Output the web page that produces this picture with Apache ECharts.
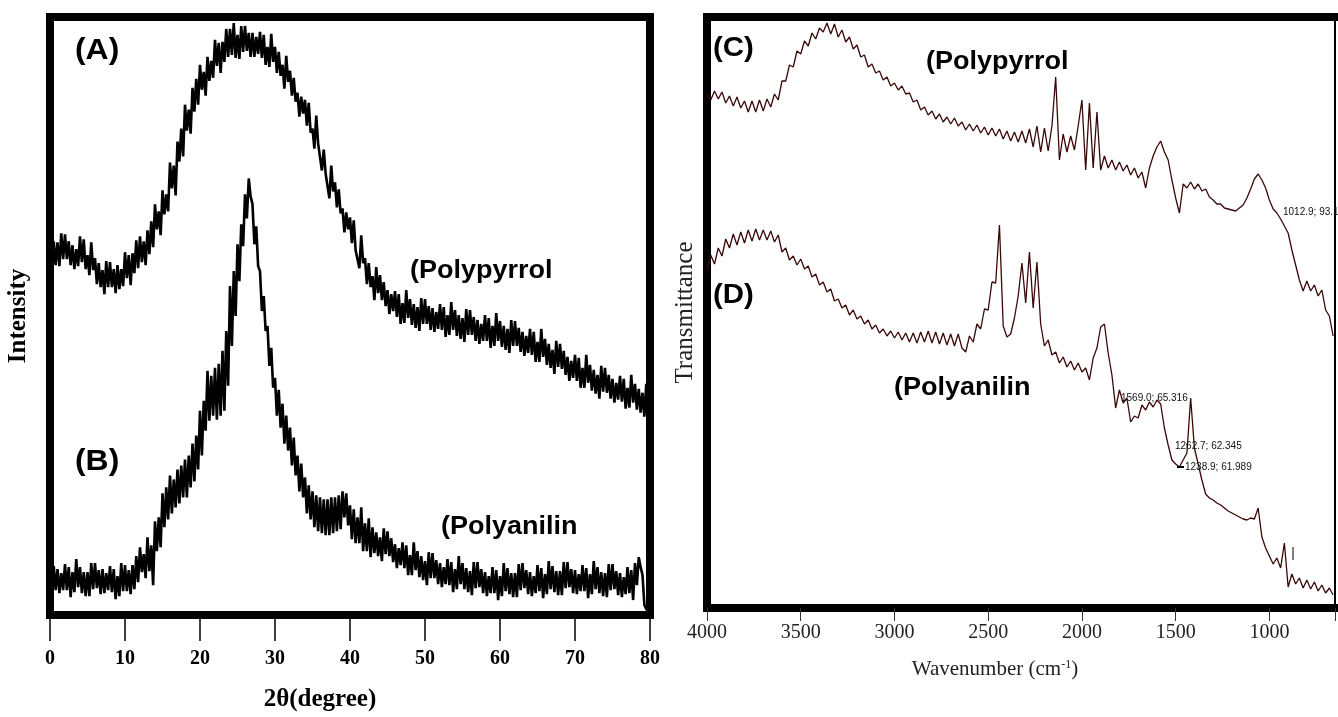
<!DOCTYPE html>
<html>
<head>
  <meta charset="utf-8">
  <title>XRD and FTIR of Polypyrrol / Polyanilin</title>
  <script src="https://cdn.jsdelivr.net/npm/echarts@6/dist/echarts.min.js"></script>
</head>
<body style="margin:0;background:#fff">
<div id="main" style="width:1338px;height:717px"></div>
<script type="text/javascript">
  // XRD scans: 2theta 0..80 deg, 0.25 deg step, arbitrary intensity
  var xrdStart = 0, xrdStep = 0.25;
  var xrdPolypyrrol = [
    380,354,375,351, 374,350,383,357, 382,357,375,351, 371,347,367,350, 380,354,377,347,
    361,341,374,346, 358,332,353,329, 346,322,355,329, 354,329,347,323, 351,327,347,330,
    364,338,361,331, 363,343,376,348, 380,354,375,351, 386,362,395,369, 412,387,405,381,
    426,402,422,405, 454,428,451,421, 475,455,488,460, 512,486,507,483, 529,505,538,512,
    552,527,545,521, 560,536,556,539, 577,551,574,544, 575,555,588,560, 588,562,594,559,
    582,558,591,565, 591,566,584,560, 584,560,580,563, 585,559,582,552, 570,550,583,555,
    570,544,565,541, 552,528,561,535, 546,521,539,515, 524,500,520,503, 517,491,514,484,
    488,468,501,473, 472,446,467,443, 442,418,451,425, 434,409,427,403, 408,384,404,387,
    399,373,396,366, 368,348,381,353, 358,332,353,329, 340,316,349,323, 341,316,334,310,
    326,302,322,305, 325,299,322,292, 313,293,326,298, 317,291,312,288, 309,285,318,292,
    317,292,310,286, 308,284,304,287, 312,286,309,279, 301,281,314,286, 306,280,301,277,
    298,274,307,281, 306,281,299,275, 296,272,292,275, 301,275,298,268, 290,270,303,275,
    295,269,290,266, 287,263,296,270, 295,270,288,264, 284,260,280,263, 287,261,284,254,
    274,254,287,259, 277,251,272,248, 266,242,275,249, 272,247,265,241, 259,235,255,238,
    261,235,258,228, 248,228,261,233, 251,225,246,222, 241,217,250,224, 248,223,241,217,
    237,213,233,216, 240,214,237,207, 228,208,241,213, 232,206,227,203, 223,199,232,206,
    213
  ];
  var xrdPolyanilin = [
    56,31,49,25, 46,22,42,25, 51,25,48,18, 43,23,56,28, 48,22,43,19,
    43,19,52,26, 52,27,45,21, 46,22,42,25, 49,23,46,16, 39,19,52,24,
    50,24,45,21, 50,26,59,33, 68,43,61,37, 78,44,70,30, 94,64,98,68,
    122,88,128,96, 140,102,136,108, 146,112,150,118, 156,118,160,128, 172,134,180,146,
    205,160,215,185, 245,195,240,200, 248,196,252,200, 265,205,285,230, 330,270,345,300,
    372,335,392,370, 422,398,438,420, 412,372,390,350, 345,305,320,285, 290,250,268,228,
    238,200,226,188, 212,172,200,165, 188,150,178,140, 160,124,152,118, 138,102,130,96,
    124,88,120,84, 118,82,116,80, 116,80,118,82, 118,84,120,86, 124,98,122,90,
    110,76,106,72, 98,72,108,64, 92,64,97,58, 88,62,83,59, 78,54,87,61,
    84,59,77,53, 71,47,67,50, 73,47,70,40, 60,40,73,45, 64,38,59,35,
    54,30,63,37, 62,37,55,31, 52,28,48,31, 56,30,53,23, 46,26,59,31,
    52,26,47,23, 44,20,53,27, 53,28,46,22, 43,19,39,22, 48,22,45,15,
    39,19,52,24, 47,21,42,18, 42,18,51,25, 52,27,45,21, 43,19,39,22,
    50,24,47,17, 41,21,54,26, 49,23,44,20, 44,20,53,27, 53,28,46,22,
    45,21,41,24, 50,24,47,17, 41,21,54,26, 48,22,43,19, 42,18,51,25,
    51,26,44,20, 42,18,38,21, 48,22,45,15, 52,30,58,48, 40,10,6,4,
    2
  ];

  // FTIR spectra: wavenumber 4000 down to 660 cm-1, 20 cm-1 step, arbitrary transmittance
  var ftirStart = 4000, ftirStep = -20;
  var ftirPolypyrrol = [
    514,508,517,509,516,505,512,502,511,500,
    507,496,507,496,508,497,509,501,514,508,
    527,527,543,541,557,554,567,562,575,569,
    580,576,585,574,584,571,578,566,571,559,
    563,551,553,541,544,535,537,528,531,522,
    525,518,522,514,515,506,508,498,501,493,
    497,489,494,486,491,484,490,482,486,478,
    484,477,483,475,481,473,480,472,479,469,
    477,467,476,466,477,465,479,461,482,456,
    480,457,482,531,448,474,456,472,458,482,
    508,438,505,440,496,438,452,440,448,438,
    446,437,443,433,440,430,436,420,440,452,
    461,467,456,448,428,410,395,424,420,426,
    419,424,417,419,411,408,404,404,400,399,
    398,397,400,403,410,419,429,434,428,420,
    408,399,395,389,382,375,358,343,328,317,
    327,317,323,312,318,298,292,272
  ];
  var ftirPolyanilin = [
    338,353,344,360,352,369,360,374,363,376,
    365,378,367,379,368,378,368,377,366,373,
    356,360,348,352,343,349,339,342,331,334,
    323,326,316,319,307,309,300,303,293,298,
    289,292,284,288,279,283,275,279,272,277,
    270,276,268,275,266,275,265,276,266,277,
    265,276,264,275,263,274,262,274,260,256,
    272,266,284,279,299,298,326,325,383,282,
    271,274,290,312,345,305,356,300,346,284,
    262,268,253,256,245,251,241,247,238,245,
    236,240,228,250,260,281,284,255,233,200,
    218,205,210,186,192,190,203,198,206,201,
    208,204,180,163,148,144,141,148,155,210,
    160,144,128,114,110,108,105,103,100,97,
    95,93,91,89,88,90,89,100,71,60,
    52,44,50,40,65,21,34,24,30,20,
    28,19,26,17,23,15,20,13
  ];

  function toPairs(start, step, values) {
    return values.map(function (v, i) { return [start + step * i, v]; });
  }

  var serifBold = { fontFamily: 'Liberation Serif', fontWeight: 'bold', color: '#000' };
  var serif = { fontFamily: 'Liberation Serif', color: '#222' };
  var hidden = { show: false };

  function label(text, x, y, size, sx) {
    return {
      type: 'text', x: x, y: y, z: 100, scaleX: sx,
      style: { text: text, fontFamily: 'Liberation Sans', fontWeight: 'bold', fontSize: size, fill: '#000', verticalAlign: 'middle' }
    };
  }
  function note(text, x, y) {
    return {
      type: 'text', x: x, y: y, z: 100,
      style: { text: text, fontFamily: 'Liberation Sans', fontSize: 10, fill: '#111', verticalAlign: 'middle' }
    };
  }

  var myChart = echarts.init(document.getElementById('main'));
  var thick = { show: true, onZero: false, lineStyle: { color: '#000', width: 8, cap: 'square' } };
  var option = {
    animation: false,
    backgroundColor: '#fff',
    grid: [
      { left: 50, top: 17, width: 600, height: 599, show: true, borderColor: '#000', borderWidth: 8 },
      { left: 707, top: 17, width: 629, height: 591, show: true, borderColor: '#000', borderWidth: 2 }
    ],
    xAxis: [
      {
        gridIndex: 0, type: 'value', min: 0, max: 80, interval: 10,
        axisLine: { show: true, lineStyle: { color: '#000', width: 1 } },
        axisTick: { show: true, length: 26, lineStyle: { color: '#000', width: 1.5 } },
        axisLabel: Object.assign({ margin: 34, fontSize: 20 }, serifBold),
        splitLine: hidden,
        name: '2θ(degree)', nameLocation: 'middle', nameGap: 72,
        nameTextStyle: Object.assign({ fontSize: 25, padding: [0, 60, 0, 0] }, serifBold)
      },
      {
        gridIndex: 1, type: 'value', inverse: true, min: 650, max: 4000,
        axisLine: thick,
        axisTick: { show: true, length: 13, lineStyle: { color: '#333', width: 1 } },
        axisLabel: Object.assign({
          margin: 15, fontSize: 20,
          formatter: function (v) { return v % 500 === 0 ? String(v) : ''; }
        }, serif),
        splitLine: hidden,
        name: '{a|Wavenumber (cm}{s|-1}{a|)}', nameLocation: 'middle', nameGap: 51,
        nameTextStyle: {
          padding: [0, 52, 0, 0],
          rich: {
            a: { fontFamily: 'Liberation Serif', fontSize: 21, color: '#222' },
            s: { fontFamily: 'Liberation Serif', fontSize: 12, color: '#222', verticalAlign: 'top' }
          }
        }
      },
      {
        gridIndex: 1, type: 'value', position: 'top', inverse: true, min: 650, max: 4000,
        axisLine: thick, axisTick: hidden, axisLabel: hidden, splitLine: hidden
      }
    ],
    yAxis: [
      {
        gridIndex: 0, type: 'value', min: 0, max: 600,
        axisLine: hidden, axisTick: hidden, axisLabel: hidden, splitLine: hidden,
        name: 'Intensity', nameLocation: 'middle', nameGap: 19,
        nameTextStyle: Object.assign({ fontSize: 25 }, serifBold)
      },
      {
        gridIndex: 1, type: 'value', min: 0, max: 591,
        axisLine: thick, axisTick: hidden, axisLabel: hidden, splitLine: hidden,
        name: 'Transmittance', nameLocation: 'middle', nameGap: 9,
        nameTextStyle: Object.assign({ fontSize: 25 }, serif)
      }
    ],
    series: [
      {
        name: 'XRD Polypyrrol', type: 'line', xAxisIndex: 0, yAxisIndex: 0, silent: true,
        showSymbol: false, data: toPairs(xrdStart, xrdStep, xrdPolypyrrol),
        lineStyle: { color: '#000', width: 2.6 }
      },
      {
        name: 'XRD Polyanilin', type: 'line', xAxisIndex: 0, yAxisIndex: 0, silent: true,
        showSymbol: false, data: toPairs(xrdStart, xrdStep, xrdPolyanilin),
        lineStyle: { color: '#000', width: 2.6 }
      },
      {
        name: 'FTIR Polypyrrol', type: 'line', xAxisIndex: 1, yAxisIndex: 1, silent: true,
        showSymbol: false, data: toPairs(ftirStart, ftirStep, ftirPolypyrrol),
        lineStyle: { color: '#3a0808', width: 1.3 }
      },
      {
        name: 'FTIR Polyanilin', type: 'line', xAxisIndex: 1, yAxisIndex: 1, silent: true,
        showSymbol: false, data: toPairs(ftirStart, ftirStep, ftirPolyanilin),
        lineStyle: { color: '#3a0808', width: 1.3 }
      }
    ],
    graphic: [
      label('(A)', 75, 51, 29, 1.1),
      label('(Polypyrrol', 410, 271, 25, 1.08),
      label('(B)', 75, 462, 29, 1.1),
      label('(Polyanilin', 441, 527, 25, 1.08),
      label('(C)', 713, 48, 28, 1.05),
      label('(Polypyrrol', 926, 62, 25, 1.08),
      label('(D)', 713, 295, 28, 1.05),
      label('(Polyanilin', 894, 388, 25, 1.08),
      note('1012.9; 93.1', 1283, 212),
      note('1569.0; 65.316', 1121, 398),
      note('1262.7; 62.345', 1175, 446),
      note('1238.9; 61.989', 1185, 467),
      { type: 'rect', z: 100, shape: { x: 1177, y: 466, width: 7, height: 2 }, style: { fill: '#000' } },
      { type: 'line', z: 100, shape: { x1: 1293, y1: 547, x2: 1293, y2: 560 }, style: { stroke: '#000', lineWidth: 1 } }
    ]
  };
  myChart.setOption(option);
</script>
</body>
</html>
